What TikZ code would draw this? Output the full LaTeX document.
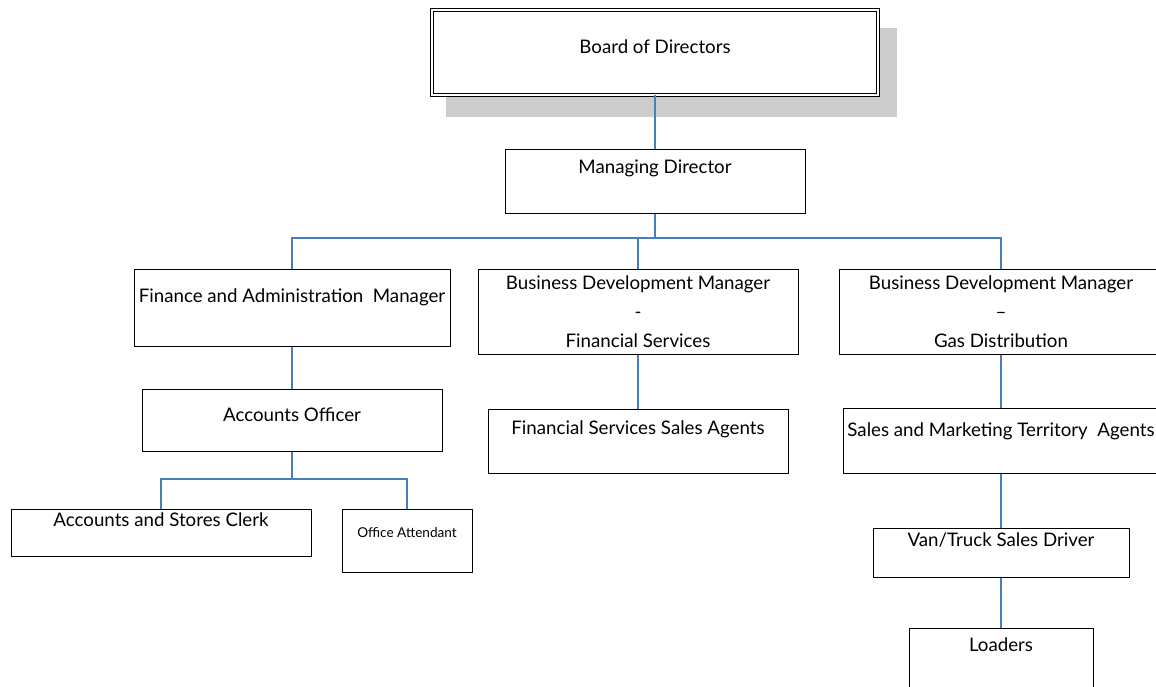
\documentclass[tikz,border=0pt]{standalone}
\usepackage{fontspec}
\setmainfont{Lato}
\definecolor{connblue}{HTML}{4A7EBB}
\definecolor{shadowgray}{HTML}{CCCCCC}
\tikzset{
  box/.style={draw=black, line width=1pt, fill=white, inner sep=0pt},
  conn/.style={draw=connblue, line width=1.4pt},
  lbl/.style={anchor=base, inner sep=0pt, font=\fontsize{18.7}{29}\selectfont, align=center},
  smalllbl/.style={anchor=base, inner sep=0pt, font=\fontsize{13.6}{16}\selectfont},
}
\newcommand{\boxat}[5]{% name, x1, y1, x2, y2
  \node[box, minimum width={#4-#2}, minimum height={#5-#3}] (#1) at ({(#2+#4)/2},{(#3+#5)/2}) {};}
\begin{document}
\begin{tikzpicture}[x=1pt, y=-1pt]
\useasboundingbox (0,0) rectangle (1156,686);
% shadow of the board box
\fill[shadowgray] (446,28) rectangle (897,117);
% board box with double border
\node[draw=black, line width=0.9pt, double=white, double distance=2.2pt, fill=white,
      minimum width=446, minimum height=85, inner sep=0pt] (board) at (655,52.5) {};
\node[lbl] (tboard) at (655,53) {Board of Directors};

\boxat{md}{505}{149}{805}{213}
\node[lbl] (tmd) at (655,173) {Managing Director};

\boxat{fam}{134}{269}{450}{346}
\node[lbl] (tfam) at (292,302) {Finance and Administration\ \ Manager};

\boxat{bdmfs}{478}{269}{798}{354}
\node[lbl] (tbdmfs) at (638,347) {Business Development Manager\\-\\Financial Services};

\boxat{bdmgd}{839}{269}{1163}{354}
\node[lbl] (tbdmgd) at (1001,347) {Business Development Manager\\–\\Gas Distribution};

\boxat{ao}{142}{389}{442}{451}
\node[lbl] (tao) at (292,421) {Accounts Officer};

\boxat{fssa}{488}{409}{788}{473}
\node[lbl] (tfssa) at (638,434) {Financial Services Sales Agents};

\boxat{smta}{843}{408}{1159}{473}
\node[lbl] (tsmta) at (1001,436) {Sales and Marketing Territory\ \ Agents};

\boxat{clerk}{11}{509}{311}{556}
\node[lbl] (tclerk) at (161,526) {Accounts and Stores Clerk};

\boxat{office}{342}{509}{472}{572}
\node[smalllbl] (toffice) at (407,537) {Office Attendant};

\boxat{van}{873}{528}{1129}{577}
\node[lbl] (tvan) at (1001,546) {Van/Truck Sales Driver};

\boxat{loaders}{909}{628}{1093}{700}
\node[lbl] (tloaders) at (1001,651) {Loaders};

% connectors
\coordinate (bus) at (655,238);
\draw[conn] (board.south) -- (md.north);
\draw[conn] (md.south) -- (bus);
\draw[conn] (fam.north) |- (bus) -| (bdmgd.north);
\draw[conn] (bus -| bdmfs.north) -- (bdmfs.north);
\draw[conn] (fam.south) -- (ao.north);
\draw[conn] (bdmfs.south) -- (fssa.north);
\draw[conn] (bdmgd.south) -- (smta.north);
\draw[conn] (smta.south) -- (van.north);
\draw[conn] (van.south) -- (loaders.north);
\coordinate (bus2) at (292,479);
\draw[conn] (ao.south) -- (bus2);
\draw[conn] (clerk.north) |- (bus2) -| (office.north);
\end{tikzpicture}
\end{document}
